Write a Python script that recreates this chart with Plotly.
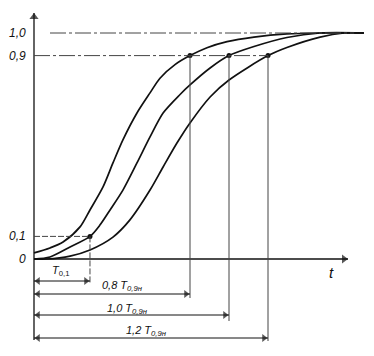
import plotly.graph_objects as go

# ---- data (time in units of T0,9н, response 0..1) ----
t_curve1 = [0.000, 0.082, 0.149, 0.236, 0.287, 0.354, 0.405, 0.456, 0.528, 0.595,
            0.646, 0.723, 0.800, 0.887, 0.990, 1.128, 1.297, 1.467, 1.692]
y_curve1 = [0.027, 0.049, 0.075, 0.142, 0.217, 0.319, 0.425, 0.527, 0.646, 0.735,
            0.800, 0.860, 0.900, 0.935, 0.962, 0.982, 0.996, 1.000, 1.000]

t_curve2 = [0.000, 0.082, 0.185, 0.287, 0.338, 0.390, 0.456, 0.528, 0.595, 0.662,
            0.749, 0.800, 0.903, 1.000, 1.128, 1.297, 1.467, 1.692]
y_curve2 = [0.000, 0.009, 0.053, 0.100, 0.150, 0.217, 0.305, 0.425, 0.540, 0.646,
            0.728, 0.770, 0.845, 0.900, 0.940, 0.980, 1.000, 1.000]

t_curve3 = [0.000, 0.067, 0.185, 0.287, 0.405, 0.492, 0.595, 0.662, 0.733, 0.800,
            0.903, 1.000, 1.200, 1.297, 1.467, 1.590, 1.692]
y_curve3 = [0.000, 0.000, 0.013, 0.040, 0.097, 0.173, 0.305, 0.407, 0.513, 0.602,
            0.717, 0.792, 0.900, 0.936, 0.982, 1.000, 1.000]

t_multipliers = [0.8, 1.0, 1.2]          # multiples of T0,9н
mult_labels = ["0,8", "1,0", "1,2"]
t_01 = 0.287                              # T0,1
level_lo = 0.1
level_hi = 0.9
level_top = 1.0
ytick_vals = [0.0, 0.1, 0.9, 1.0]
ytick_text = ["0", "0,1", "0,9", "1,0"]

# ---- layout geometry (page has an 8px body margin) ----
OFF = 8
W, H = 374 - 2 * OFF, 356 - 2 * OFF
X0_PX, Y0_PX, T_PX, Y_PX = 34 - OFF, 259 - OFF, 195, 226
xr = [-X0_PX / T_PX, (W - X0_PX) / T_PX]
yr = [(Y0_PX - H) / Y_PX, Y0_PX / Y_PX]

def py2y(py):  # screen pixel -> data
    return (Y0_PX - (py - OFF)) / Y_PX

def px2x(px):
    return ((px - OFF) - X0_PX) / T_PX

INK = "#111111"
GREY = "#444444"
fnt = dict(family="Liberation Sans, Arial, sans-serif", size=11, color=INK)

fig = go.Figure()

for tt, yy in [(t_curve1, y_curve1), (t_curve2, y_curve2), (t_curve3, y_curve3)]:
    fig.add_trace(go.Scatter(x=tt, y=yy, mode="lines",
                             line=dict(color=INK, width=1.7, shape="spline", smoothing=0.8),
                             hoverinfo="skip", showlegend=False))

chain = "16px,3px,3px,3px"
shapes = []
# axes
y_top = py2y(13)
x_end = px2x(348)
shapes.append(dict(type="line", x0=0, x1=0, y0=py2y(340), y1=y_top, line=dict(color=INK, width=1.3)))
shapes.append(dict(type="line", x0=0, x1=x_end, y0=0, y1=0, line=dict(color=INK, width=1.3)))
# level 1.0 line
shapes.append(dict(type="line", x0=px2x(50), x1=t_curve1[-1] - 0.05, y0=level_top, y1=level_top,
                   line=dict(color=GREY, width=1, dash=chain)))
# level 0.9 line
shapes.append(dict(type="line", x0=0, x1=t_multipliers[-1], y0=level_hi, y1=level_hi,
                   line=dict(color=GREY, width=1, dash=chain)))
# level 0.1 line
shapes.append(dict(type="line", x0=0, x1=t_01, y0=level_lo, y1=level_lo,
                   line=dict(color=GREY, width=1, dash="6px,2px")))

dim_y = [py2y(294), py2y(315), py2y(338)]
vend = [py2y(298), py2y(321), py2y(341)]
for m, ve in zip(t_multipliers, vend):
    shapes.append(dict(type="line", x0=m, x1=m, y0=level_hi, y1=ve,
                       line=dict(color=GREY, width=1)))
# T0,1 vertical
t01_dim = py2y(281)
shapes.append(dict(type="line", x0=t_01, x1=t_01, y0=level_lo, y1=py2y(284),
                   line=dict(color=GREY, width=1, dash="6px,2px")))
# dimension lines
dim_ends = [t_01] + t_multipliers
dim_levels = [t01_dim] + dim_y
for e, dy in zip(dim_ends, dim_levels):
    shapes.append(dict(type="line", x0=0, x1=e, y0=dy, y1=dy, line=dict(color=INK, width=1)))

# arrowheads as markers (tip offset by half-size)
hx = 4 / T_PX
hy = 4 / Y_PX
ax_x = [0, x_end - hx] + [hx] * 4 + [e - hx for e in dim_ends]
ax_y = [y_top - hy, 0] + dim_levels + dim_levels
ax_s = ["triangle-up", "triangle-right"] + ["triangle-left"] * 4 + ["triangle-right"] * 4
ax_sz = [8, 8] + [7] * 8
fig.add_trace(go.Scatter(x=ax_x, y=ax_y, mode="markers",
                         marker=dict(symbol=ax_s, size=ax_sz, color=INK, line=dict(width=0)),
                         hoverinfo="skip", showlegend=False))

# points
fig.add_trace(go.Scatter(x=t_multipliers + [t_01], y=[level_hi] * 3 + [level_lo], mode="markers",
                         marker=dict(color=INK, size=5), hoverinfo="skip", showlegend=False))

ann = []
tick_font = dict(fnt)
tick_font["size"] = 12
for v, s in zip(ytick_vals, ytick_text):
    ann.append(dict(x=-0.03, y=v, xref="x", yref="y", text="<i>%s</i>" % s, showarrow=False,
                    xanchor="right", yanchor="middle", font=tick_font))

def lab(px, py, text, size=11):
    f = dict(fnt)
    f["size"] = size
    ann.append(dict(x=px2x(px), y=py2y(py), xref="x", yref="y", text=text, showarrow=False,
                    xanchor="center", yanchor="middle", font=f))

lab(331, 272, "<i>t</i>", 15)
lab(60, 271, "<i>T</i><sub>0,1</sub>")
lab_pos = [(122, 286), (127, 309), (146, 331)]
for (px, py), s in zip(lab_pos, mult_labels):
    lab(px, py, "<i>%s T</i><sub><i>0,9н</i></sub>" % s)

fig.update_layout(
    width=W, height=H, margin=dict(l=0, r=0, t=0, b=0),
    paper_bgcolor="white", plot_bgcolor="white",
    xaxis=dict(range=xr, visible=False, fixedrange=True),
    yaxis=dict(range=yr, visible=False, fixedrange=True),
    shapes=shapes, annotations=ann, showlegend=False,
)
fig.write_html("out.html")
